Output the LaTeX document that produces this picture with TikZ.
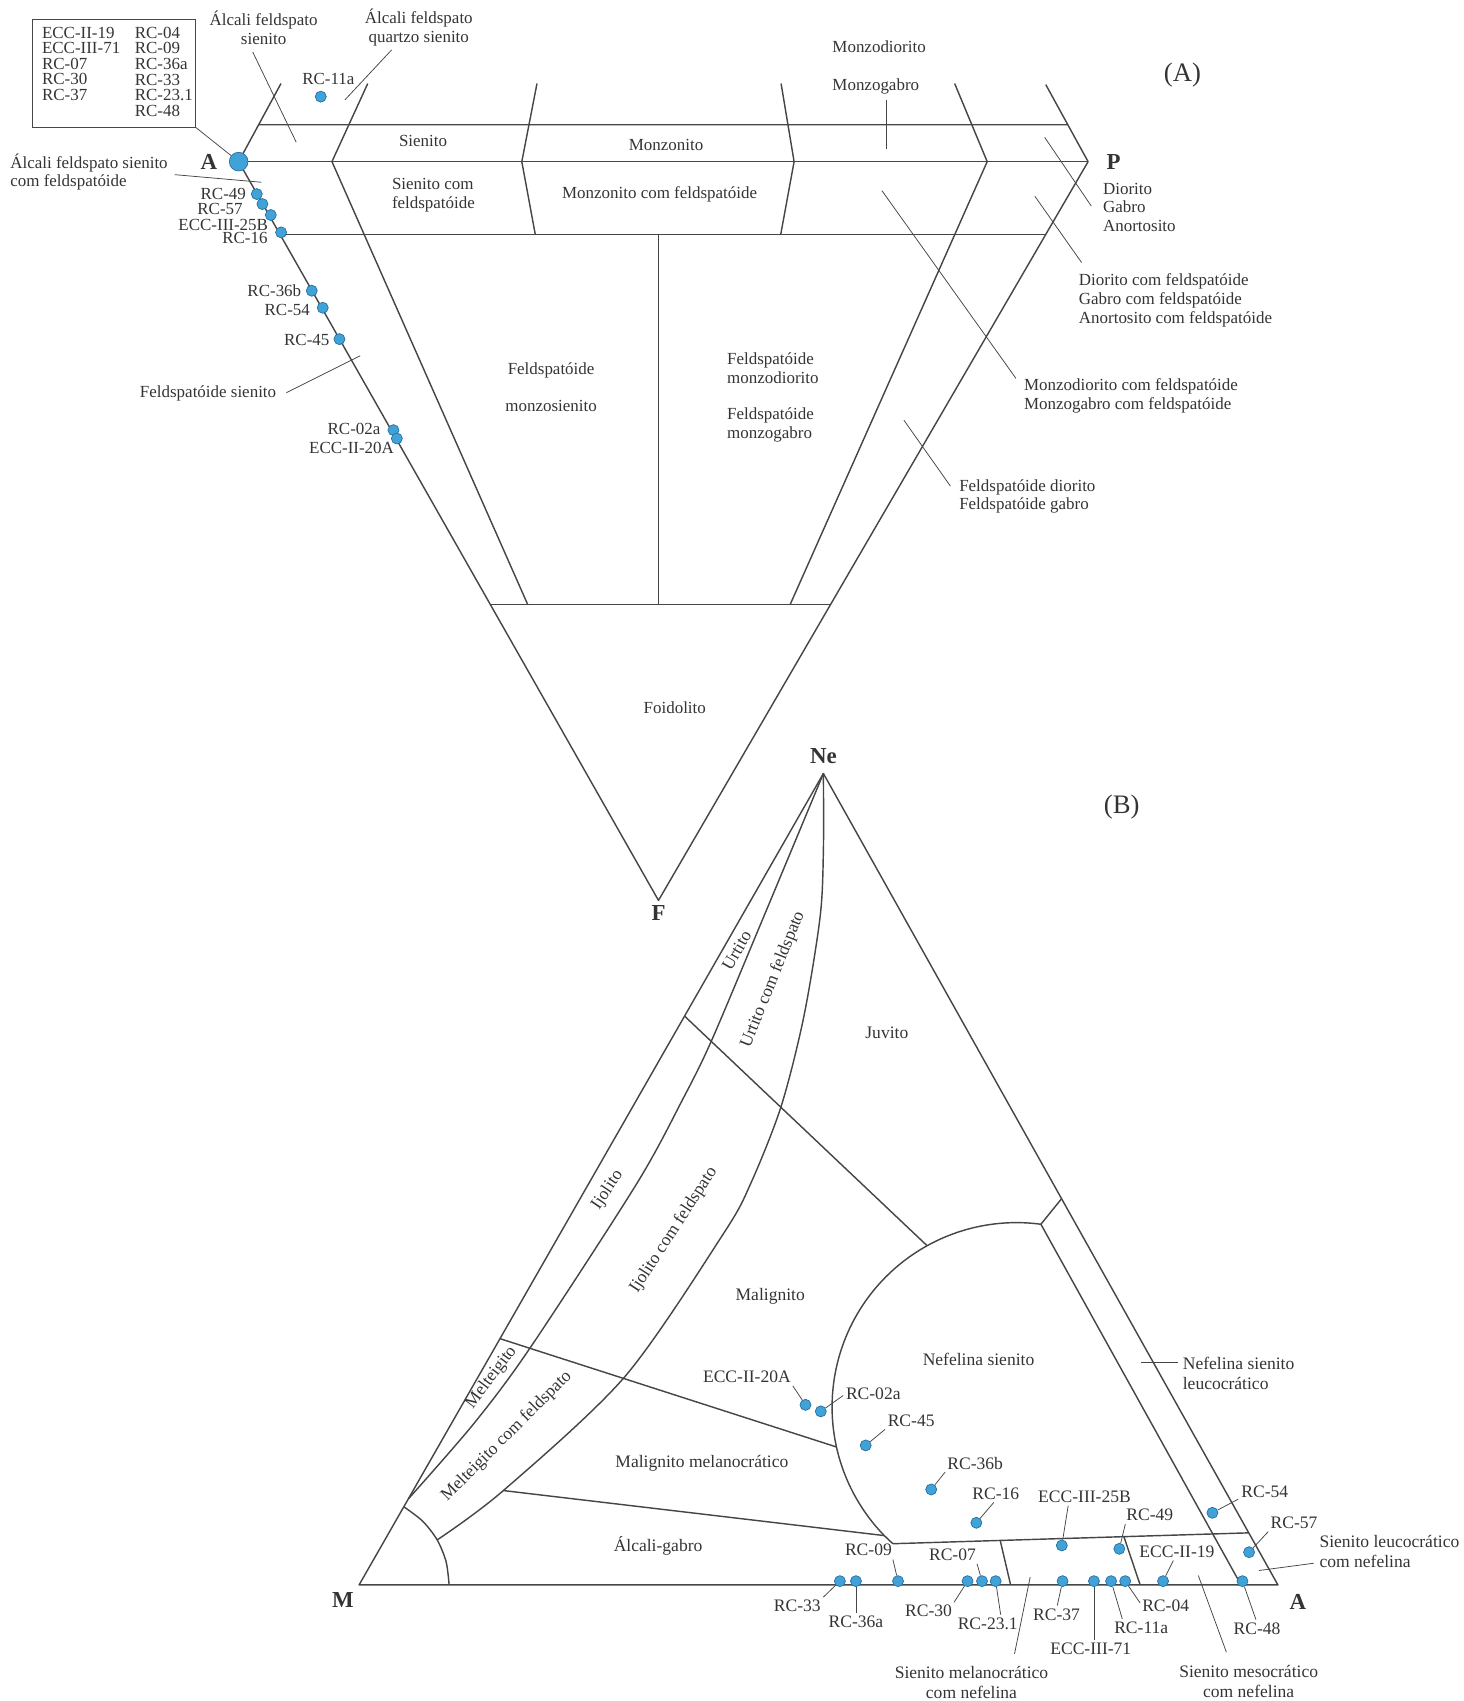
\documentclass[tikz,border=0pt]{standalone}
\usepackage{fontspec}
\setmainfont{Liberation Serif}
\usepackage{tikz}
\usetikzlibrary{positioning, calc}
\usepackage{xcolor}

\definecolor{SampleBlue}{RGB}{64,162,214}
\definecolor{SampleRim}{RGB}{36,110,160}
\definecolor{FieldGray}{RGB}{70,70,70}
\definecolor{LabelGray}{RGB}{52,52,52}

\tikzset{
  field/.style={draw=FieldGray, line width=0.75pt, line join=round},
  pointer/.style={draw=FieldGray, line width=0.4pt},
  tag/.style={pointer, shorten >=1.6pt},
  sample/.style={circle, fill=SampleBlue, draw=SampleRim, line width=0.35pt, inner sep=0pt, minimum size=5.8pt},
  bigsample/.style={sample, minimum size=9.8pt},
  qname/.style={text=LabelGray, inner sep=0pt, font=\fontsize{8.9}{9.8}\selectfont},
  nname/.style={text=LabelGray, inner sep=0pt, font=\fontsize{9.2}{10.2}\selectfont},
  legendcol/.style={text=LabelGray, inner sep=0pt, align=left, anchor=north west, font=\fontsize{8.9}{8.2}\selectfont},
  corner/.style={text=LabelGray, inner sep=0pt, font=\fontsize{12}{12}\selectfont\bfseries},
  panel/.style={text=LabelGray, inner sep=0pt, font=\fontsize{14}{14}\selectfont},
}

\begin{document}
\begin{tikzpicture}[x=0.02cm, y=-0.02cm]
  \useasboundingbox (0,0) rectangle (1349,1568);

  \coordinate (qa) at (220,149);
  \coordinate (qp) at (1003,149);
  \coordinate (qf) at (607,830);
  \coordinate (qql) at (259,77);
  \coordinate (qqr) at (964,78);
  \coordinate (qtl) at ($(qa)!0.472!(qql)$);
  \coordinate (qtr) at ($(qp)!0.479!(qqr)$);
  \coordinate (qml) at ($(qa)!0.0984!(qf)$);
  \coordinate (qmr) at ($(qp)!0.0984!(qf)$);
  \coordinate (qbl) at ($(qa)!0.5991!(qf)$);
  \coordinate (qbr) at ($(qp)!0.5991!(qf)$);
  \coordinate (qs1) at (306,149);
  \coordinate (qs2) at (481,149);
  \coordinate (qs3) at (732,149);
  \coordinate (qs4) at (910,149);

  \draw[field] (qql) -- (qa) -- (qf) -- (qp) -- (qqr);
  \draw[field] (qa) -- (qp);
  \draw[field] (qtl) -- (qtr);
  \draw[field] (qml) -- (qmr);
  \draw[field] (qbl) -- (qbr);
  \draw[field] (339,77) -- (qs1) -- ($(qs1)!0.5991!(qf)$);
  \draw[field] (495,77) -- (qs2) -- ($(qs2)!0.0984!(qf)$);
  \draw[field] (720,77) -- (qs3) -- ($(qs3)!0.0984!(qf)$);
  \draw[field] (880,77) -- (qs4) -- ($(qs4)!0.5991!(qf)$);
  \draw[field] (607,216) -- (607,557);

  \node[draw=FieldGray, line width=0.45pt, minimum width=3.012cm, minimum height=1.986cm, anchor=north west, inner sep=0pt] (legend) at (29.2,17.5) {};
  \node[legendcol] (legleft) at ($(legend.north west)+(9.2,6.9)$) {ECC-II-19\\ECC-III-71\\RC-07\\RC-30\\RC-37};
  \node[legendcol] (legright) at ($(legend.north west)+(94.7,6.9)$) {RC-04\\RC-09\\RC-36a\\RC-33\\RC-23.1\\RC-48};

  \node[bigsample] (qrcA) at (qa) {};
  \node[sample] (q11a) at (295.7,89.1) {};
  \node[sample] (q49) at (236.7,178.9) {};
  \node[sample] (q57) at (241.9,188.1) {};
  \node[sample] (qE25B) at (249.6,198.2) {};
  \node[sample] (q16) at (259.1,214.2) {};
  \node[sample] (q36b) at (287.4,268) {};
  \node[sample] (q54) at (297.5,283.7) {};
  \node[sample] (q45) at (312.9,312.6) {};
  \node[sample] (q02a) at (362.7,396.5) {};
  \node[sample] (qE20A) at (365.8,404.2) {};

  \draw[pointer] (legend.south east) -- (qrcA);

  \node[corner, left=6pt of qrcA] (labqa) {A};
  \node[corner, right=9.5pt of qp] (labqp) {P};
  \node[corner, below=2.5pt of qf] (labqf) {F};
  \node[panel] (panela) at (1090,69) {(A)};

  \node[qname] (t11aq) at (302.7,73.2) {RC-11a};
  \node[qname, anchor=east] (t49q) at (227,179) {RC-49};
  \node[qname, anchor=east] (t57q) at (224,193) {RC-57};
  \node[qname, anchor=east] (tE25Bq) at (247.4,207.5) {ECC-III-25B};
  \node[qname, anchor=east] (t16q) at (247,219.6) {RC-16};
  \node[qname, anchor=east] (t36bq) at (278,268) {RC-36b};
  \node[qname, anchor=east] (t54q) at (286,285.8) {RC-54};
  \node[qname, anchor=east] (t45q) at (304,313) {RC-45};
  \node[qname, anchor=east] (t02aq) at (351,395.6) {RC-02a};
  \node[qname, anchor=east] (tE20Aq) at (363.5,412.8) {ECC-II-20A};

  \node[qname, align=center] (alksien) at (243,25.4) {Álcali feldspato\\sienito};
  \node[qname, align=center] (alkqz) at (386,25.6) {Álcali feldspato\\quartzo sienito};
  \node[qname] (sien) at (390,129.7) {Sienito};
  \node[qname] (monz) at (614,133.5) {Monzonito};
  \node[qname, align=left, anchor=west] (monzdio) at (767,62) {Monzodiorito\\[9.9pt]Monzogabro};
  \node[qname, align=left, anchor=west] (sicomf) at (361,180) {Sienito com\\feldspatóide};
  \node[qname] (mzcomf) at (608,179) {Monzonito com feldspatóide};
  \node[qname, align=center] (fmzs) at (508,357) {Feldspatóide\\[9.8pt]monzosienito};
  \node[qname, align=left, anchor=west] (fmzd) at (670,366.5) {Feldspatóide\\monzodiorito\\[9.4pt]Feldspatóide\\monzogabro};
  \node[qname] (foid) at (622,652.5) {Foidolito};
  \node[qname, align=left, anchor=west] (diogab) at (1016.5,191) {Diorito\\Gabro\\Anortosito};
  \node[qname, align=left, anchor=west] (diogabf) at (994.2,277) {Diorito com feldspatóide\\Gabro com feldspatóide\\Anortosito com feldspatóide};
  \node[qname, align=left, anchor=west] (mzdf) at (943.6,365.2) {Monzodiorito com feldspatóide\\Monzogabro com feldspatóide};
  \node[qname, align=left, anchor=west] (fdio) at (883.9,457.5) {Feldspatóide diorito\\Feldspatóide gabro};
  \node[qname, align=left, anchor=west] (alkfs) at (9.2,158.5) {Álcali feldspato sienito\\com feldspatóide};
  \node[qname] (fsien) at (191.8,362.7) {Feldspatóide sienito};

  \coordinate (alksien-a) at (233,48);
  \coordinate (alksien-b) at (273,131);
  \coordinate (alkqz-a) at (361,46);
  \coordinate (alkqz-b) at (318,92);
  \coordinate (alkfs-a) at (161,161);
  \coordinate (alkfs-b) at (241,168);
  \coordinate (fsien-a) at (264,362);
  \coordinate (fsien-b) at (332,328);
  \coordinate (monzdio-a) at (817,92);
  \coordinate (monzdio-b) at (817,137);
  \coordinate (diogab-a) at (963,126.6);
  \coordinate (diogab-b) at (1006,190);
  \coordinate (diogabf-a) at (954,181);
  \coordinate (diogabf-b) at (997,242);
  \coordinate (mzdf-a) at (813,175.8);
  \coordinate (mzdf-b) at (936.5,348.8);
  \coordinate (fdio-a) at (833.2,387.3);
  \coordinate (fdio-b) at (876.1,448.1);

  \draw[pointer] (alksien-a) -- (alksien-b);
  \draw[pointer] (alkqz-a) -- (alkqz-b);
  \draw[pointer] (alkfs-a) -- (alkfs-b);
  \draw[pointer] (fsien-a) -- (fsien-b);
  \draw[pointer] (monzdio-a) -- (monzdio-b);
  \draw[pointer] (diogab-a) -- (diogab-b);
  \draw[pointer] (diogabf-a) -- (diogabf-b);
  \draw[pointer] (mzdf-a) -- (mzdf-b);
  \draw[pointer] (fdio-a) -- (fdio-b);

  \coordinate (nne) at (759,713);
  \coordinate (nm) at (331,1461);
  \coordinate (na) at (1178,1461);
  \coordinate (nline) at (464,1374);
  \coordinate (ntop) at (959.5,1128.5);
  \coordinate (nbot) at (815.1,1415.5);
  \coordinate (nfoot) at (823,1423);
  \coordinate (nleft) at (771,1333.8);
  \coordinate (nupper) at (854.6,1148.3);

  \draw[field] (nm) -- (nne) -- (na) -- cycle;
  \draw[field] plot[smooth] coordinates {(759,713) (704,845) (656,959) (629,1014) (587,1091) (489,1242) (437,1312) (376.5,1381.6)};
  \draw[field] plot[smooth] coordinates {(759,713) (759,784) (756,845) (741,937) (720,1020) (692,1091) (667,1137) (576,1269) (464,1374) (403,1419.5)};
  \draw[field] plot[smooth] coordinates {(414,1461) (411.2,1439.5) (403,1419.5) (389.7,1402.3) (372.5,1389.1)};
  \draw[field] plot[domain=82.4:224.2, samples=60, smooth] ({937+170*cos(\x)}, {1297-170*sin(\x)}) -- (nfoot);
  \draw[field] (ntop) -- ($(nne)!0.524!(na)$);
  \draw[field] (ntop) -- (1144,1461);
  \draw[field] (nfoot) -- ($(nne)!0.9358!(na)$);
  \draw[field] (922,1420) -- (931.6,1461);
  \draw[field] (1036,1416.5) -- (1051,1461);
  \draw[field] ($(nne)!0.299!(nm)$) -- (nupper);
  \draw[field] ($(nne)!0.6965!(nm)$) -- (nleft);
  \draw[field] (nline) -- (nbot);

  \node[corner, above=5pt of nne] (labne) {Ne};
  \node[corner] (labnm) at (316,1475) {M};
  \node[corner] (labna) at (1196.5,1477) {A};
  \node[panel] (panelb) at (1034,744) {(B)};

  \node[nname] (juv) at (817.5,952) {Juvito};
  \node[nname, rotate=60] (urt) at (679,876) {Urtito};
  \node[nname, rotate=68] (urtf) at (712.5,903) {Urtito com feldspato};
  \node[nname, rotate=56] (ijo) at (560,1097) {Ijolito};
  \node[nname, rotate=57] (ijof) at (621,1134) {Ijolito com feldspato};
  \node[nname] (mal) at (710,1195) {Malignito};
  \node[nname, rotate=53] (mel) at (453,1270) {Melteigito};
  \node[nname, rotate=45] (melf) at (467,1324) {Melteigito com feldspato};
  \node[nname] (malmel) at (647,1349) {Malignito melanocrático};
  \node[nname] (alkgab) at (606.6,1425) {Álcali-gabro};
  \node[nname] (nefsien) at (902,1253) {Nefelina sienito};
  \node[nname, align=left, anchor=west] (nefleu) at (1090,1266) {Nefelina sienito\\leucocrático};
  \node[nname, align=left, anchor=west] (sileu) at (1216,1430) {Sienito leucocrático\\com nefelina};
  \node[nname, align=center] (simel) at (895.5,1551) {Sienito melanocrático\\com nefelina};
  \node[nname, align=center] (simes) at (1151,1550) {Sienito mesocrático\\com nefelina};

  \coordinate (nefleu-a) at (1052,1256);
  \coordinate (nefleu-b) at (1086,1256);
  \coordinate (sileu-a) at (1211,1441);
  \coordinate (sileu-b) at (1160.5,1447.7);
  \coordinate (simel-a) at (935.2,1524.5);
  \coordinate (simel-b) at (949.6,1453.8);
  \coordinate (simes-a) at (1130.5,1523);
  \coordinate (simes-b) at (1104.6,1452.3);

  \draw[pointer] (nefleu-a) -- (nefleu-b);
  \draw[pointer] (sileu-a) -- (sileu-b);
  \draw[pointer] (simel-a) -- (simel-b);
  \draw[pointer] (simes-a) -- (simes-b);

  \node[sample] (nE20A) at (742.5,1295) {};
  \node[sample] (n02a) at (756.6,1301) {};
  \node[sample] (n45) at (798,1332.4) {};
  \node[sample] (n36b) at (858.4,1373) {};
  \node[sample] (n16) at (900,1403.7) {};
  \node[sample] (nE25B) at (978.8,1424.6) {};
  \node[sample] (n49) at (1031.8,1427.7) {};
  \node[sample] (n54) at (1117.6,1394.5) {};
  \node[sample] (n57) at (1151.4,1430.8) {};
  \node[sample] (n33) at (774.2,1457.5) {};
  \node[sample] (n36a) at (789,1457.5) {};
  \node[sample] (n09) at (827.8,1457.5) {};
  \node[sample] (n30) at (891.9,1457.5) {};
  \node[sample] (n07) at (905.2,1457.5) {};
  \node[sample] (n231) at (917.8,1457.5) {};
  \node[sample] (n37) at (979.5,1457.5) {};
  \node[sample] (nE71) at (1008.4,1457.5) {};
  \node[sample] (n11a) at (1024.2,1457.5) {};
  \node[sample] (n04) at (1037.2,1457.5) {};
  \node[sample] (nE19) at (1072.1,1457.5) {};
  \node[sample] (n48) at (1145.3,1457.5) {};

  \node[nname] (tE20A) at (688.5,1269.4) {ECC-II-20A};
  \node[nname, anchor=west] (t02a) at (779.5,1284.8) {RC-02a};
  \node[nname, anchor=west] (t45) at (818,1310) {RC-45};
  \node[nname, anchor=west] (t36b) at (873,1348.7) {RC-36b};
  \node[nname, anchor=west] (t16) at (896,1377) {RC-16};
  \node[nname] (tE25B) at (999.7,1379.4) {ECC-III-25B};
  \node[nname, anchor=west] (t49) at (1038,1396.4) {RC-49};
  \node[nname, anchor=west] (tE19) at (1050,1430.2) {ECC-II-19};
  \node[nname, anchor=west] (t54) at (1144,1374.8) {RC-54};
  \node[nname, anchor=west] (t57) at (1171,1404) {RC-57};
  \node[nname] (t09) at (800.5,1429) {RC-09};
  \node[nname] (t07) at (878,1433) {RC-07};
  \node[nname] (t30) at (856,1485.2) {RC-30};
  \node[nname] (t231) at (910.5,1496.9) {RC-23.1};
  \node[nname] (t37) at (974,1488.5) {RC-37};
  \node[nname] (tE71) at (1005.5,1520) {ECC-III-71};
  \node[nname] (t11a) at (1052,1500.9) {RC-11a};
  \node[nname] (t04) at (1074.5,1480) {RC-04};
  \node[nname] (t48) at (1158.7,1501.5) {RC-48};
  \node[nname] (t33) at (735,1480) {RC-33};
  \node[nname] (t36a) at (789,1495.3) {RC-36a};

  \draw[tag] (nE20A) -- (tE20A.south east);
  \draw[tag] (n02a) -- (t02a.west);
  \draw[tag] (n45) -- (t45.south west);
  \draw[tag] (n36b) -- (t36b.south west);
  \draw[tag] (n16) -- (t16.south);
  \draw[tag] (nE25B) -- ($(tE25B.south west)!0.33!(tE25B.south east)$);
  \draw[tag] (n49) -- (t49.south west);
  \draw[tag] (n54) -- (t54.south west);
  \draw[tag] (n57) -- (t57.south west);
  \draw[tag] (nE19) -- ($(tE19.south west)!0.47!(tE19.south east)$);
  \draw[tag] (n09) -- (t09.south east);
  \draw[tag] (n07) -- (t07.south east);
  \draw[tag] (n30) -- (t30.north east);
  \draw[tag] (n231) -- ($(t231.north west)!0.72!(t231.north east)$);
  \draw[tag] (n37) -- (t37.north);
  \draw[tag] (nE71) -- (nE71 |- tE71.north);
  \draw[tag] (n11a) -- ($(t11a.north west)!0.17!(t11a.north east)$);
  \draw[tag] (n04) -- (t04.west);
  \draw[tag] (n48) -- (t48.north);
  \draw[tag] (n33) -- (t33.north east);
  \draw[tag] (n36a) -- (t36a.north);
\end{tikzpicture}
\end{document}
